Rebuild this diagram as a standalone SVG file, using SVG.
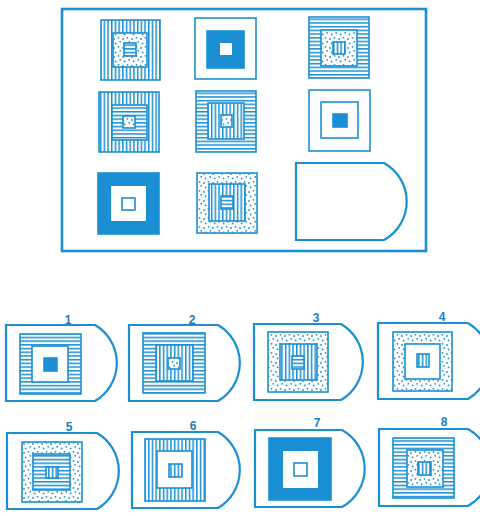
<svg xmlns="http://www.w3.org/2000/svg" width="480" height="516" viewBox="0 0 480 516">
<style>
.o{fill:none;stroke:#1b8fd4;stroke-width:1.5}
.w{fill:#fff;stroke:#1b8fd4;stroke-width:1.6}
.s{fill:#1b8fd4;stroke:#1b8fd4;stroke-width:1.6}
.h{fill:url(#hs);stroke:#1b8fd4;stroke-width:1.6}
.v{fill:url(#vs);stroke:#1b8fd4;stroke-width:1.6}
.d{fill:url(#dt);stroke:#1b8fd4;stroke-width:1.6}
.tag{fill:#fff;stroke:#1b8fd4;stroke-width:2.2}
.lbl{font-family:"Liberation Sans",Arial,sans-serif;font-size:12px;font-weight:bold;fill:#1a7cc2;text-anchor:middle}
</style>
<defs>
<pattern id="hs" patternUnits="userSpaceOnUse" width="4" height="3.7">
<rect width="4" height="3.7" fill="#fff"/><rect y="0" width="4" height="1.5" fill="#1b8fd4"/>
</pattern>
<pattern id="vs" patternUnits="userSpaceOnUse" width="3.7" height="4">
<rect width="3.7" height="4" fill="#fff"/><rect x="0" width="1.5" height="4" fill="#1b8fd4"/>
</pattern>
<pattern id="dt" patternUnits="userSpaceOnUse" width="9" height="9">
<rect width="9" height="9" fill="#fff"/>
<circle cx="1.5" cy="1.8" r="0.9" fill="#1b8fd4"/>
<circle cx="6" cy="3" r="0.9" fill="#1b8fd4"/>
<circle cx="3.2" cy="5.8" r="0.9" fill="#1b8fd4"/>
<circle cx="7.6" cy="7.4" r="0.9" fill="#1b8fd4"/>
</pattern>
</defs>
<rect width="480" height="516" fill="#fff"/>
<rect id="frame" x="62" y="9" width="364" height="242" fill="none" stroke="#1b8fd4" stroke-width="2.6"/>

<g id="cell-r1c1"><rect class="v" x="101" y="20" width="59" height="60"/><rect class="d" x="113" y="33" width="34" height="34"/><rect class="h" x="124" y="43" width="12" height="13"/></g>
<g id="cell-r1c2"><rect class="w" x="195" y="18" width="61" height="61"/><rect class="s" x="207" y="31" width="37" height="37"/><rect fill="#fff" x="220" y="43" width="12" height="12"/></g>
<g id="cell-r1c3"><rect class="h" x="309" y="17" width="60" height="61"/><rect class="d" x="321" y="30" width="36" height="36"/><rect class="v" x="333" y="42" width="12" height="12"/></g>
<g id="cell-r2c1"><rect class="v" x="99" y="92" width="60" height="60"/><rect class="h" x="112" y="105" width="35" height="35"/><rect class="d" x="123" y="116" width="12" height="12"/></g>
<g id="cell-r2c2"><rect class="h" x="196" y="91" width="60" height="61"/><rect class="v" x="208" y="103" width="36" height="36"/><rect class="d" x="221" y="115" width="11" height="12"/></g>
<g id="cell-r2c3"><rect class="w" x="309" y="90" width="61" height="61"/><rect class="w" x="321" y="102" width="37" height="36"/><rect class="s" x="333" y="114" width="14" height="13"/></g>
<g id="cell-r3c1"><rect class="s" x="98" y="173" width="61" height="61"/><rect fill="#fff" x="111" y="186" width="35" height="35"/><rect class="w" x="122" y="198" width="13" height="12"/></g>
<g id="cell-r3c2"><rect class="d" x="197" y="173" width="60" height="60"/><rect class="v" x="209" y="184" width="36" height="37"/><rect class="h" x="221" y="196" width="12" height="13"/></g>
<g id="cell-blank"><path class="tag" d="M296,163 H384 A44,44 0 0 1 384,240 H296 Z"/></g>

<g id="opt1"><path class="tag" d="M6,325 H95 A44,44 0 0 1 95,401 H6 Z"/><rect class="h" x="20" y="334" width="61" height="60"/><rect class="w" x="32" y="346" width="36" height="36"/><rect class="s" x="44" y="358" width="13" height="13"/><text class="lbl" x="68" y="324">1</text></g>
<g id="opt2"><path class="tag" d="M129,325 H218 A44,44 0 0 1 218,401 H129 Z"/><rect class="h" x="143" y="333" width="62" height="60"/><rect class="v" x="156" y="345" width="37" height="36"/><rect class="d" x="168" y="358" width="12" height="11"/><text class="lbl" x="192" y="324">2</text></g>
<g id="opt3"><path class="tag" d="M254,324 H341 A44,44 0 0 1 341,400 H254 Z"/><rect class="d" x="268" y="332" width="60" height="60"/><rect class="v" x="280" y="344" width="37" height="36"/><rect class="h" x="292" y="356" width="12" height="13"/><text class="lbl" x="316" y="322">3</text></g>
<g id="opt4"><path class="tag" d="M378,323 H468 A44,44 0 0 1 468,399 H378 Z"/><rect class="d" x="393" y="332" width="59" height="59"/><rect class="w" x="405" y="344" width="35" height="35"/><rect class="v" x="417" y="354" width="12" height="13"/><text class="lbl" x="442" y="321">4</text></g>
<g id="opt5"><path class="tag" d="M7,433 H97 A44,44 0 0 1 97,509 H7 Z"/><rect class="d" x="22" y="442" width="60" height="60"/><rect class="h" x="33" y="454" width="37" height="36"/><rect class="v" x="46" y="467" width="12" height="11"/><text class="lbl" x="69" y="431">5</text></g>
<g id="opt6"><path class="tag" d="M132,432 H218 A44,44 0 0 1 218,508 H132 Z"/><rect class="v" x="145" y="439" width="60" height="62"/><rect class="w" x="157" y="451" width="35" height="37"/><rect class="v" x="169" y="464" width="13" height="13"/><text class="lbl" x="193" y="430">6</text></g>
<g id="opt7"><path class="tag" d="M255,430 H342 A44,44 0 0 1 342,507 H255 Z"/><rect class="s" x="269" y="438" width="62" height="62"/><rect fill="#fff" x="283" y="451" width="35" height="37"/><rect class="w" x="294" y="463" width="13" height="13"/><text class="lbl" x="317" y="427">7</text></g>
<g id="opt8"><path class="tag" d="M379,429 H468 A44,44 0 0 1 468,506 H379 Z"/><rect class="h" x="393" y="438" width="61" height="60"/><rect class="d" x="407" y="450" width="36" height="37"/><rect class="v" x="418" y="462" width="13" height="13"/><text class="lbl" x="444" y="426">8</text></g>
<g id="connectors"/>
</svg>
